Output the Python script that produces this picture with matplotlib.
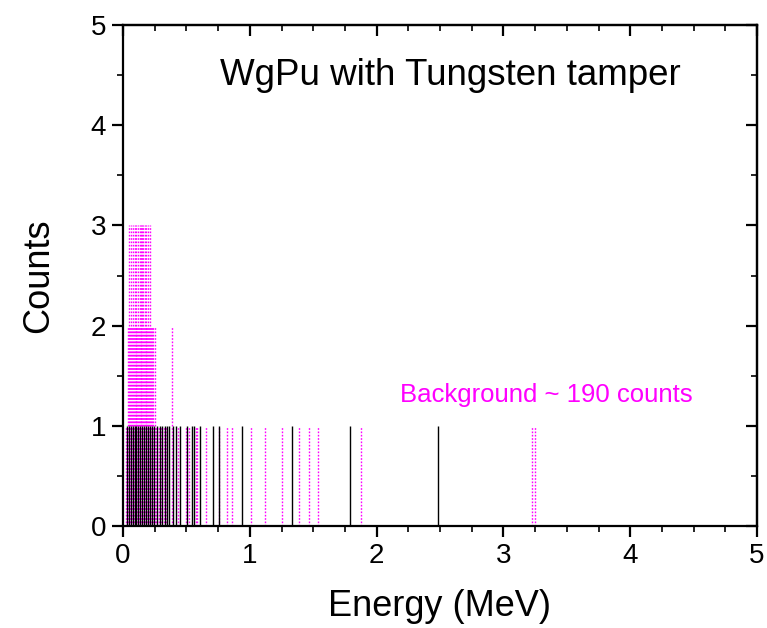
import matplotlib
matplotlib.use("Agg")
import matplotlib.pyplot as plt
from matplotlib.ticker import MultipleLocator

plt.rcParams['font.family'] = ['Liberation Sans', 'DejaVu Sans']

# Signal (WgPu with tungsten tamper) - energies in MeV, counts
sig_energy = [0.03, 0.05, 0.065, 0.08, 0.095, 0.105, 0.12, 0.135, 0.15, 0.165,
              0.18, 0.195, 0.21, 0.225, 0.245, 0.27, 0.29, 0.31, 0.33, 0.345,
              0.365, 0.397, 0.416, 0.452, 0.505, 0.548, 0.558, 0.61, 0.712,
              0.757, 0.936, 1.335, 1.79, 2.487]
sig_counts = [1] * len(sig_energy)

# Background (~190 counts) - energies in MeV, counts
bg_energy = [0.02, 0.03, 0.04, 0.047, 0.054, 0.06, 0.068, 0.075, 0.083, 0.092,
             0.1, 0.105, 0.112, 0.118, 0.125, 0.132, 0.139, 0.145, 0.152, 0.158,
             0.165, 0.172, 0.178, 0.184, 0.19, 0.197, 0.204, 0.21, 0.218, 0.228,
             0.24, 0.25, 0.26, 0.272, 0.285, 0.3, 0.32, 0.34, 0.384, 0.431,
             0.494, 0.52, 0.573, 0.586, 0.655, 0.757, 0.818, 0.862, 1.007,
             1.12, 1.251, 1.391, 1.464, 1.536, 1.874, 3.223, 3.249]
bg_counts = [1, 1, 2, 3, 2, 3, 2, 3, 2, 3,
             2, 3, 2, 3, 2, 3, 2, 3, 3, 3,
             2, 3, 2, 3, 2, 3, 2, 3, 2, 2,
             2, 2, 1, 1, 1, 1, 1, 1, 2, 1,
             1, 1, 1, 1, 1, 1, 1, 1, 1,
             1, 1, 1, 1, 1, 1, 1, 1]

x_ticks = [0, 1, 2, 3, 4, 5]
y_ticks = [0, 1, 2, 3, 4, 5]

fig = plt.figure(figsize=(7.67, 6.28), dpi=100)
ax = fig.add_axes([123 / 767, 1 - 526 / 628, 634 / 767, 501 / 628])

magenta = '#FF00FF'
ax.axhline(0, color=magenta, lw=1.0, ls=(0, (1.5, 1.5)), zorder=1)
ax.vlines(bg_energy, 0, bg_counts, colors=magenta, lw=1.0,
          linestyles=[(0, (1.2, 1.2))], zorder=2)
ax.vlines(sig_energy, 0, sig_counts, colors='black', lw=1.0, zorder=3)

ax.set_xlim(0, 5)
ax.set_ylim(0, 5)
ax.set_xticks(x_ticks)
ax.set_yticks(y_ticks)
ax.xaxis.set_minor_locator(MultipleLocator(0.25))
ax.yaxis.set_minor_locator(MultipleLocator(0.5))
ax.tick_params(which='major', direction='out', length=8, width=1.6,
               labelsize=20, top=False, right=False, pad=4)
ax.tick_params(which='minor', direction='out', length=4, width=1.2,
               top=False, right=False)
for s in ax.spines.values():
    s.set_linewidth(1.6)

secx = ax.secondary_xaxis('top')
secx.set_xticks(x_ticks)
secx.xaxis.set_minor_locator(MultipleLocator(0.25))
secx.tick_params(which='major', direction='in', length=8, width=1.6, labeltop=False)
secx.tick_params(which='minor', direction='in', length=4, width=1.2)
secx.spines['top'].set_linewidth(1.6)

secy = ax.secondary_yaxis('right')
secy.set_yticks(y_ticks)
secy.yaxis.set_minor_locator(MultipleLocator(0.5))
secy.tick_params(which='major', direction='in', length=8, width=1.6, labelright=False)
secy.tick_params(which='minor', direction='in', length=4, width=1.2)
secy.spines['right'].set_linewidth(1.6)

ax.set_xlabel('Energy (MeV)', fontsize=26, labelpad=15)
ax.set_ylabel('Counts', fontsize=26, labelpad=25)

ax.text(0.517, 0.9, 'WgPu with Tungsten tamper', transform=ax.transAxes,
        fontsize=26.5, ha='center', va='center')
ax.text(0.667, 0.262, 'Background ~ 190 counts', transform=ax.transAxes,
        fontsize=18.5, ha='center', va='center', color=magenta)

fig.savefig('out.png', dpi=100)
